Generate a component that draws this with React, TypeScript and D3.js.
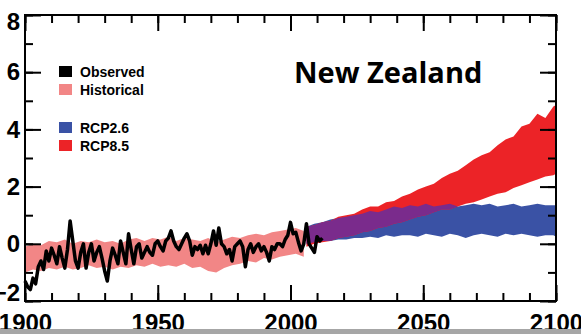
import React, { useEffect, useRef } from 'react';
import * as d3 from 'd3';

// historical model range (pink band)
const histYears = [1900, 1903, 1906, 1909, 1912, 1915, 1918, 1921, 1924, 1927, 1930, 1933, 1936, 1939, 1942, 1945, 1948, 1951, 1954, 1957, 1960, 1963, 1966, 1969, 1972, 1975, 1978, 1981, 1984, 1987, 1990, 1993, 1996, 1999, 2002, 2005];
const histLow = [-1.0, -0.9, -0.95, -0.85, -0.9, -0.8, -0.9, -0.85, -0.75, -0.85, -0.8, -0.9, -0.8, -0.85, -0.75, -0.8, -0.7, -0.8, -0.75, -0.8, -0.7, -0.85, -0.8, -0.95, -1.0, -0.85, -0.75, -0.7, -0.6, -0.65, -0.5, -0.55, -0.45, -0.4, -0.35, -0.45];
const histHigh = [-0.1, 0.0, -0.05, 0.1, 0.05, 0.15, 0.0, 0.1, 0.05, 0.15, 0.05, 0.1, 0.0, 0.15, 0.2, 0.1, 0.2, 0.15, 0.25, 0.1, 0.2, 0.15, 0.1, 0.2, 0.05, 0.15, 0.25, 0.2, 0.3, 0.35, 0.3, 0.4, 0.45, 0.5, 0.55, 0.45];

// observed anomalies
const obsYears = [1900, 1901, 1902, 1903, 1904, 1905, 1906, 1907, 1908, 1909, 1910, 1911, 1912, 1913, 1914, 1915, 1916, 1917, 1918, 1919, 1920, 1921, 1922, 1923, 1924, 1925, 1926, 1927, 1928, 1929, 1930, 1931, 1932, 1933, 1934, 1935, 1936, 1937, 1938, 1939, 1940, 1941, 1942, 1943, 1944, 1945, 1946, 1947, 1948, 1949, 1950, 1951, 1952, 1953, 1954, 1955, 1956, 1957, 1958, 1959, 1960, 1961, 1962, 1963, 1964, 1965, 1966, 1967, 1968, 1969, 1970, 1971, 1972, 1973, 1974, 1975, 1976, 1977, 1978, 1979, 1980, 1981, 1982, 1983, 1984, 1985, 1986, 1987, 1988, 1989, 1990, 1991, 1992, 1993, 1994, 1995, 1996, 1997, 1998, 1999, 2000, 2001, 2002, 2003, 2004, 2005, 2006, 2007, 2008, 2009, 2010, 2011, 2012];
const obsValues = [-1.3, -1.5, -1.6, -1.2, -1.4, -0.8, -0.6, -0.9, -0.25, -0.6, -0.15, -0.4, -0.7, -0.1, -0.5, -0.85, -0.2, 0.8, 0.1, -0.6, -0.85, -0.3, 0.0, -0.85, -0.3, 0.0, -0.6, -0.3, -0.1, -0.5, -0.95, -1.3, -0.6, -0.15, -0.4, -0.7, 0.1, -0.3, -0.7, 0.35, -0.2, -0.7, -0.1, 0.0, -0.5, -0.3, -0.1, -0.3, -0.4, 0.0, 0.1, -0.1, -0.25, 0.1, 0.2, 0.45, 0.1, -0.1, -0.2, 0.0, 0.2, 0.35, 0.1, -0.4, -0.1, -0.2, -0.05, -0.35, -0.05, -0.35, 0.0, 0.45, -0.05, 0.55, 0.0, -0.1, -0.35, -0.2, -0.6, -0.1, 0.0, 0.1, -0.1, -0.8, -0.2, 0.0, -0.3, -0.1, 0.0, -0.25, -0.1, -0.3, -0.6, -0.1, -0.2, 0.0, 0.0, -0.1, 0.15, 0.3, 0.75, 0.35, 0.4, 0.05, -0.25, 0.0, 0.7, 0.0, -0.15, -0.3, 0.25, 0.1, 0.2];

// scenario ranges
const rcpYears = [2006, 2009, 2012, 2015, 2018, 2021, 2024, 2027, 2030, 2033, 2036, 2039, 2042, 2045, 2048, 2051, 2054, 2057, 2060, 2063, 2066, 2069, 2072, 2075, 2078, 2081, 2084, 2087, 2090, 2093, 2096, 2099, 2100];
const rcp26Low = [0.0, 0.05, 0.1, 0.1, 0.15, 0.15, 0.2, 0.2, 0.25, 0.2, 0.3, 0.25, 0.3, 0.3, 0.25, 0.35, 0.3, 0.25, 0.35, 0.3, 0.2, 0.3, 0.35, 0.3, 0.25, 0.35, 0.3, 0.35, 0.3, 0.25, 0.3, 0.3, 0.25];
const rcp26High = [0.6, 0.7, 0.75, 0.85, 0.9, 0.95, 1.0, 1.05, 1.15, 1.1, 1.2, 1.3, 1.25, 1.35, 1.3, 1.4, 1.3, 1.35, 1.4, 1.3, 1.35, 1.4, 1.35, 1.4, 1.3, 1.35, 1.4, 1.3, 1.35, 1.4, 1.35, 1.35, 1.35];
const rcp85Low = [-0.1, 0.0, 0.05, 0.1, 0.2, 0.25, 0.3, 0.4, 0.45, 0.55, 0.6, 0.7, 0.75, 0.85, 0.95, 1.0, 1.1, 1.2, 1.2, 1.3, 1.4, 1.45, 1.55, 1.65, 1.75, 1.8, 1.95, 2.05, 2.15, 2.25, 2.35, 2.4, 2.45];
const rcp85High = [0.6, 0.65, 0.75, 0.8, 0.95, 1.0, 1.05, 1.2, 1.3, 1.3, 1.45, 1.5, 1.65, 1.75, 1.9, 2.0, 2.1, 2.3, 2.45, 2.55, 2.75, 2.95, 3.1, 3.2, 3.45, 3.65, 3.75, 4.1, 4.2, 4.55, 4.4, 4.8, 4.85];

const xTicksMajor = [1900, 1950, 2000, 2050, 2100];
const yTicksMajor = [-2, 0, 2, 4, 6, 8];

const legendItems = [
  { label: 'Observed', color: '#000000', y: 66 },
  { label: 'Historical', color: '#f28686', y: 84 },
  { label: 'RCP2.6', color: '#3a52a5', y: 122 },
  { label: 'RCP8.5', color: '#ec2327', y: 140 },
];

const W = 581;
const H = 334;
const left = 25, right = 556, top = 15, bottom = 301;

export default function App() {
  const ref = useRef<SVGSVGElement>(null);

  useEffect(() => {
    document.body.style.margin = '0';
    const svg = d3.select(ref.current);
    svg.selectAll('*').remove();

    const x = d3.scaleLinear().domain([1900, 2100]).range([left, right]);
    const y = d3.scaleLinear().domain([-2, 8]).range([bottom, top]);

    const band = d3.area<[number, number, number]>()
      .x(d => x(d[0]))
      .y0(d => y(d[1]))
      .y1(d => y(d[2]));

    const hist = histYears.map((yr, i) => [yr, histLow[i], histHigh[i]] as [number, number, number]);
    const r26 = rcpYears.map((yr, i) => [yr, rcp26Low[i], rcp26High[i]] as [number, number, number]);
    const r85 = rcpYears.map((yr, i) => [yr, rcp85Low[i], rcp85High[i]] as [number, number, number]);
    // overlap of the two scenarios shows as purple
    const both = rcpYears.map((yr, i) => {
      const lo = Math.max(rcp26Low[i], rcp85Low[i]);
      const hi = Math.min(rcp26High[i], rcp85High[i]);
      return [yr, lo, Math.max(lo, hi)] as [number, number, number];
    });

    svg.append('path').attr('d', band(hist)).attr('fill', '#f28686');
    svg.append('path').attr('d', band(r26)).attr('fill', '#3a52a5');
    svg.append('path').attr('d', band(r85)).attr('fill', '#ec2327');
    svg.append('path').attr('d', band(both)).attr('fill', '#7a2b8c');

    const line = d3.line<number>()
      .x((d, i) => x(obsYears[i]))
      .y(d => y(d));
    svg.append('path')
      .attr('d', line(obsValues))
      .attr('fill', 'none')
      .attr('stroke', '#000')
      .attr('stroke-width', 3.5)
      .attr('stroke-linejoin', 'round');

    // frame
    svg.append('rect')
      .attr('x', left).attr('y', top)
      .attr('width', right - left).attr('height', bottom - top)
      .attr('fill', 'none').attr('stroke', '#000').attr('stroke-width', 2);

    const styleAxis = (g) => {
      g.select('.domain').remove();
      g.selectAll('line').attr('stroke', '#000').attr('stroke-width', 2);
      g.selectAll('text')
        .attr('fill', '#000')
        .attr('font-family', '"Liberation Sans", Arial, sans-serif')
        .attr('font-weight', 'bold')
        .attr('font-size', 24);
    };

    const xMinor = d3.range(1900, 2101, 10);
    const yMinor = d3.range(-2, 9, 1);

    svg.append('g').attr('transform', `translate(0,${bottom})`)
      .call(d3.axisBottom(x).tickValues(xMinor).tickSize(-8).tickFormat(() => ''))
      .call(styleAxis);
    svg.append('g').attr('transform', `translate(0,${bottom})`)
      .call(d3.axisBottom(x).tickValues(xTicksMajor).tickSize(-16).tickPadding(13).tickFormat(d3.format('d')))
      .call(styleAxis);
    svg.append('g').attr('transform', `translate(0,${top})`)
      .call(d3.axisTop(x).tickValues(xMinor).tickSize(-8).tickFormat(() => ''))
      .call(styleAxis);
    svg.append('g').attr('transform', `translate(0,${top})`)
      .call(d3.axisTop(x).tickValues(xTicksMajor).tickSize(-16).tickFormat(() => ''))
      .call(styleAxis);

    svg.append('g').attr('transform', `translate(${left},0)`)
      .call(d3.axisLeft(y).tickValues(yMinor).tickSize(-8).tickFormat(() => ''))
      .call(styleAxis);
    const yLab = svg.append('g').attr('transform', `translate(${left},0)`)
      .call(d3.axisLeft(y).tickValues(yTicksMajor).tickSize(-16).tickPadding(5).tickFormat(d3.format('d')))
      .call(styleAxis);
    // end labels sit a little inside the frame
    yLab.selectAll('text')
      .attr('transform', d => (d === 8 ? 'translate(0,7)' : d === -2 ? 'translate(0,-8)' : null));
    svg.append('g').attr('transform', `translate(${right},0)`)
      .call(d3.axisRight(y).tickValues(yMinor).tickSize(-8).tickFormat(() => ''))
      .call(styleAxis);
    svg.append('g').attr('transform', `translate(${right},0)`)
      .call(d3.axisRight(y).tickValues(yTicksMajor).tickSize(-16).tickFormat(() => ''))
      .call(styleAxis);

    // legend
    const lg = svg.append('g');
    legendItems.forEach(item => {
      lg.append('rect')
        .attr('x', 59).attr('y', item.y)
        .attr('width', 13).attr('height', 11)
        .attr('fill', item.color);
      lg.append('text')
        .attr('x', 80).attr('y', item.y + 11)
        .attr('font-family', '"Liberation Sans", Arial, sans-serif')
        .attr('font-weight', 'bold')
        .attr('font-size', 14)
        .text(item.label);
    });

    svg.append('text')
      .attr('x', 294).attr('y', 83)
      .attr('font-family', '"Open Sans", sans-serif')
      .attr('font-weight', 'bold')
      .attr('font-size', 29)
      .text('New Zealand');

    // grey strip at the bottom edge
    svg.append('rect')
      .attr('x', 0).attr('y', 329)
      .attr('width', W).attr('height', H - 329)
      .attr('fill', '#a6a6a6');
  }, []);

  return <svg ref={ref} width={W} height={H} style={{ display: 'block', background: '#fff' }} />;
}
